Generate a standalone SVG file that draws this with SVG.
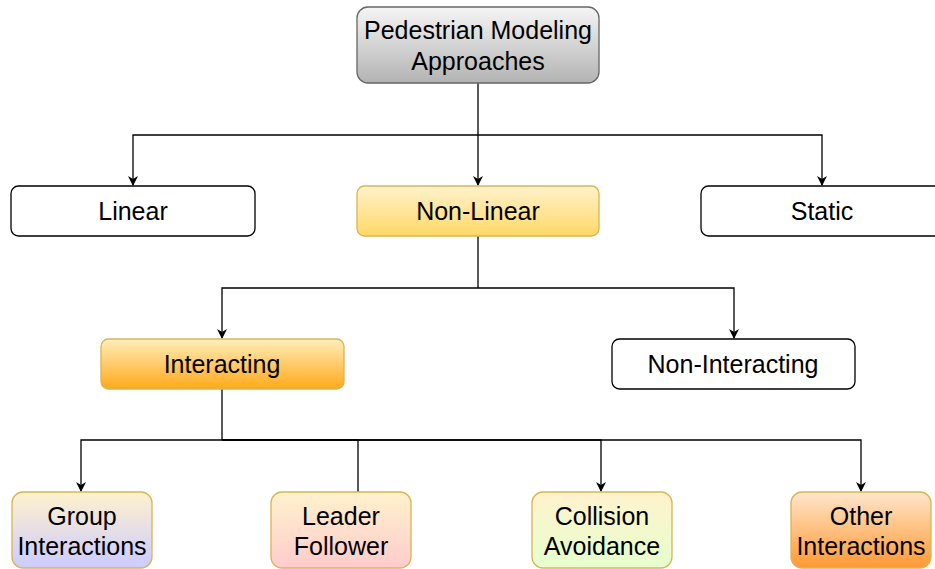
<svg xmlns="http://www.w3.org/2000/svg" width="935" height="569" viewBox="0 0 935 569">
<style>
.t{font-family:"Liberation Sans",Arial,sans-serif;font-size:25px;fill:#000;text-anchor:middle}
.w{fill:#fff;stroke:#000;stroke-width:1.3}
.c{fill:none;stroke:#000;stroke-width:1.3}
</style>
<defs>
<linearGradient id="gGray" x1="0" y1="0" x2="0" y2="1"><stop offset="0" stop-color="#f5f5f5"/><stop offset="1" stop-color="#b3b3b3"/></linearGradient>
<linearGradient id="gNL" x1="0" y1="0" x2="0" y2="1"><stop offset="0" stop-color="#fff2cc"/><stop offset="1" stop-color="#ffd966"/></linearGradient>
<linearGradient id="gInt" x1="0" y1="0" x2="0" y2="1"><stop offset="0" stop-color="#ffeebb"/><stop offset="1" stop-color="#ffa91a"/></linearGradient>
<linearGradient id="gGrp" x1="0" y1="0" x2="0" y2="1"><stop offset="0" stop-color="#fff2cc"/><stop offset="1" stop-color="#ccccff"/></linearGradient>
<linearGradient id="gLd" x1="0" y1="0" x2="0" y2="1"><stop offset="0" stop-color="#fff2cc"/><stop offset="1" stop-color="#ffcccc"/></linearGradient>
<linearGradient id="gCol" x1="0" y1="0" x2="0" y2="1"><stop offset="0" stop-color="#fff2cc"/><stop offset="1" stop-color="#e6ffcc"/></linearGradient>
<linearGradient id="gOth" x1="0" y1="0" x2="0" y2="1"><stop offset="0" stop-color="#ffe6cc"/><stop offset="1" stop-color="#ff9933"/></linearGradient>
<marker id="ar" viewBox="0 0 10 10" refX="9" refY="5" markerWidth="10" markerHeight="10" markerUnits="userSpaceOnUse" orient="auto"><path d="M0,0 L10,5 L0,10 L3,5 Z" fill="#000"/></marker>
</defs>
<g id="connectors">
<path class="c" d="M478,83 V135"/>
<path class="c" d="M478,135 H133 V185" marker-end="url(#ar)"/>
<path class="c" d="M478,135 V185" marker-end="url(#ar)"/>
<path class="c" d="M478,135 H822 V185" marker-end="url(#ar)"/>
<path class="c" d="M478,236 V288"/>
<path class="c" d="M478,288 H222 V338" marker-end="url(#ar)"/>
<path class="c" d="M478,288 H734 V338" marker-end="url(#ar)"/>
<path class="c" d="M222,389 V440"/>
<path class="c" d="M222,440 H81 V491" marker-end="url(#ar)"/>
<path class="c" d="M222,440 H358 V492"/>
<path class="c" d="M222,440 H601 V491" marker-end="url(#ar)"/>
<path class="c" d="M222,440 H861 V491" marker-end="url(#ar)"/>
</g>
<g id="root"><rect x="357" y="7" width="242" height="76" rx="11" fill="url(#gGray)" stroke="#666" stroke-width="1.3"/><text class="t" x="478" y="39">Pedestrian Modeling</text><text class="t" x="478" y="70">Approaches</text></g>
<g id="linear"><rect class="w" x="11" y="186" width="244" height="50" rx="7.5"/><text class="t" x="133" y="220">Linear</text></g>
<g id="nonlinear"><rect x="357" y="186" width="242" height="50" rx="7.5" fill="url(#gNL)" stroke="#d6b656" stroke-width="1.3"/><text class="t" x="478" y="220">Non-Linear</text></g>
<g id="static"><rect class="w" x="701" y="186" width="242" height="50" rx="7.5"/><text class="t" x="822" y="220">Static</text></g>
<g id="interacting"><rect x="101" y="339" width="243" height="50" rx="7.5" fill="url(#gInt)" stroke="#d6b656" stroke-width="1.3"/><text class="t" x="222" y="373">Interacting</text></g>
<g id="noninteracting"><rect class="w" x="612" y="339" width="243" height="50" rx="7.5"/><text class="t" x="733" y="373">Non-Interacting</text></g>
<g id="group"><rect x="12" y="492" width="140" height="76" rx="11" fill="url(#gGrp)" stroke="#d6b656" stroke-width="1.3"/><text class="t" x="82" y="525">Group</text><text class="t" x="82" y="555">Interactions</text></g>
<g id="leader"><rect x="271" y="492" width="140" height="76" rx="11" fill="url(#gLd)" stroke="#d6b656" stroke-width="1.3"/><text class="t" x="341" y="525">Leader</text><text class="t" x="341" y="555">Follower</text></g>
<g id="collision"><rect x="532" y="492" width="140" height="76" rx="11" fill="url(#gCol)" stroke="#d6b656" stroke-width="1.3"/><text class="t" x="602" y="525">Collision</text><text class="t" x="602" y="555">Avoidance</text></g>
<g id="other"><rect x="791" y="492" width="140" height="76" rx="11" fill="url(#gOth)" stroke="#d6b656" stroke-width="1.3"/><text class="t" x="861" y="525">Other</text><text class="t" x="861" y="555">Interactions</text></g>
</svg>
